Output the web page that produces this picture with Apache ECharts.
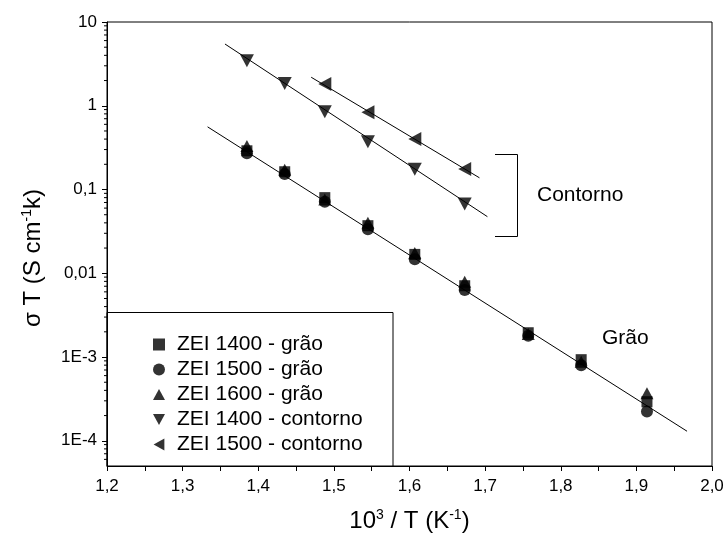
<!DOCTYPE html>
<html><head><meta charset="utf-8">
<script src="https://cdn.jsdelivr.net/npm/echarts@6/dist/echarts.min.js"></script>
<style>html,body{margin:0;padding:0;background:#fff}#c{width:727px;height:539px}</style>
</head><body><div id="c"></div>
<script>
// ---- data ----
const xGrain = [1.385, 1.435, 1.488, 1.545, 1.607, 1.673, 1.757, 1.827, 1.914];
const zei1400Grao = [0.29, 0.163, 0.080, 0.037, 0.0168, 0.0071, 0.00195, 0.00093, 0.000293];
const zei1500Grao = [0.271, 0.153, 0.0716, 0.0335, 0.0147, 0.0063, 0.00180, 0.00080, 0.000223];
const zei1600Grao = [0.331, 0.172, 0.076, 0.040, 0.0175, 0.0079, 0.00188, 0.00088, 0.000369];
const xContorno1400 = [1.385, 1.435, 1.488, 1.545, 1.607, 1.673];
const zei1400Contorno = [3.45, 1.85, 0.849, 0.372, 0.174, 0.0671];
const xContorno1500 = [1.488, 1.545, 1.607, 1.673];
const zei1500Contorno = [1.82, 0.836, 0.401, 0.176];
// fitted straight lines (end points)
const fitGraoX = [1.333, 1.967];
const fitGraoY = [0.56, 0.00013];
const fitC1400X = [1.356, 1.703];
const fitC1400Y = [5.46, 0.0474];
const fitC1500X = [1.470, 1.6925];
const fitC1500Y = [2.19, 0.138];
// tick labels
const yTickValues = [10, 1, 0.1, 0.01, 0.001, 0.0001];
const yTickLabels = ['10', '1', '0,1', '0,01', '1E-3', '1E-4'];
const xTickValues = [1.2, 1.3, 1.4, 1.5, 1.6, 1.7, 1.8, 1.9, 2.0];
const xTickLabels = ['1,2', '1,3', '1,4', '1,5', '1,6', '1,7', '1,8', '1,9', '2,0'];
const seriesNames = ['ZEI 1400 - grão', 'ZEI 1500 - grão', 'ZEI 1600 - grão', 'ZEI 1400 - contorno', 'ZEI 1500 - contorno'];
const Y_MIN = 5e-5, Y_MAX = 10;

const FONT = '"Liberation Sans", Arial, sans-serif';
const zip = (xs, ys) => xs.map((x, i) => [x, ys[i]]);
const DOWN = 'path://M0,0 L10,0 L5,9 Z';
const LEFT = 'path://M9,0 L9,10 L0,5 Z';
const UP = 'path://M5,0 L10,9 L0,9 Z';

// logarithmic minor tick positions (2..9 x 10^k) inside the axis range
const yMinor = [];
for (let k = -5; k <= 0; k++) for (let m = 2; m <= 9; m++) {
  const v = m * Math.pow(10, k);
  if (v > Y_MIN && v < Y_MAX) yMinor.push([v]);
}

function scatter(name, data, symbol, size) {
  return { name, type: 'scatter', data, symbol, symbolSize: size,
    itemStyle: { color: '#000' }, z: 5, emphasis: { disabled: true } };
}
function fit(xs, ys) {
  return { type: 'line', data: zip(xs, ys), symbol: 'none', silent: true,
    lineStyle: { color: '#000', width: 1 }, z: 3 };
}
const supRich = (big, small) => ({
  a: { fontFamily: FONT, fontSize: big, color: '#000' },
  s: { fontFamily: FONT, fontSize: small, color: '#000', verticalAlign: 'top', padding: [0, 0, 12, 0] }
});

const chart = echarts.init(document.getElementById('c'));
chart.setOption({
  animation: false,
  backgroundColor: '#fff',
  grid: { left: 107, right: 15, top: 22, bottom: 73, show: true, borderColor: '#000', borderWidth: 1 },
  xAxis: {
    type: 'value', min: 1.2, max: 2.0, interval: 0.1,
    axisLine: { lineStyle: { color: '#000', width: 1 } },
    axisTick: { inside: false, length: 5, lineStyle: { color: '#000' } },
    minorTick: { show: true, splitNumber: 2, length: 5, lineStyle: { color: '#000' } },
    splitLine: { show: false },
    axisLabel: { color: '#000', fontFamily: FONT, fontSize: 17, margin: 12,
      formatter: v => { const i = xTickValues.findIndex(t => Math.abs(t - v) < 1e-6); return i >= 0 ? xTickLabels[i] : ''; } },
    name: '{a|10}{s|3}{a| / T (K}{s|-1}{a|)}',
    nameLocation: 'middle', nameGap: 42,
    nameTextStyle: { rich: supRich(24, 14) }
  },
  yAxis: {
    type: 'log', logBase: 10, min: Y_MIN, max: Y_MAX,
    axisLine: { lineStyle: { color: '#000', width: 1 } },
    axisTick: { inside: false, length: 5, lineStyle: { color: '#000' } },
    minorTick: { show: false },
    splitLine: { show: false },
    axisLabel: { color: '#000', fontFamily: FONT, fontSize: 17, margin: 10, showMinLabel: false,
      formatter: v => { const i = yTickValues.findIndex(t => Math.abs(Math.log10(t) - Math.log10(v)) < 1e-6); return i >= 0 ? yTickLabels[i] : ''; } }
  },
  legend: {
    data: seriesNames, orient: 'vertical', left: 148, top: 329,
    itemWidth: 12, itemHeight: 12, itemGap: 4,
    textStyle: { fontFamily: FONT, fontSize: 21, color: '#000', lineHeight: 21, padding: [0, 0, 0, 7] },
    selectedMode: false
  },
  graphic: [
    { type: 'rect', shape: { x: 107, y: 312.5, width: 286, height: 153.5 },
      style: { fill: '#fff', stroke: '#000', lineWidth: 1 }, z: 0, silent: true },
    { type: 'polyline', shape: { points: [[495, 154.5], [517.5, 154.5], [517.5, 236.5], [495, 236.5]] },
      style: { stroke: '#000', lineWidth: 1, fill: null }, silent: true },
    { type: 'text', left: 537, top: 185, style: { text: 'Contorno', font: '21px ' + FONT, fill: '#000' }, silent: true },
    { type: 'text', left: 602, top: 328, style: { text: 'Grão', font: '21px ' + FONT, fill: '#000' }, silent: true },
    { type: 'text', x: 33, y: 258, rotation: Math.PI / 2, silent: true,
      style: { text: '{a|σ T (S cm}{s|-1}{a|k)}', rich: supRich(24, 14), align: 'center', verticalAlign: 'middle' } }
  ],
  series: [
    fit(fitGraoX, fitGraoY),
    fit(fitC1400X, fitC1400Y),
    fit(fitC1500X, fitC1500Y),
    { type: 'custom', data: yMinor, clip: false, silent: true, z: 4,
      encode: { y: 0 },
      renderItem: (params, api) => {
        const p = api.coord([1.2, api.value(0)]);
        return { type: 'line', shape: { x1: p[0] - 3, y1: p[1], x2: p[0], y2: p[1] },
          style: { stroke: '#000', lineWidth: 1 } };
      } },
    scatter(seriesNames[0], zip(xGrain, zei1400Grao), 'rect', 11),
    scatter(seriesNames[2], zip(xGrain, zei1600Grao), UP, [13, 12]),
    scatter(seriesNames[1], zip(xGrain, zei1500Grao), 'circle', 12),
    scatter(seriesNames[3], zip(xContorno1400, zei1400Contorno), DOWN, [14, 13]),
    scatter(seriesNames[4], zip(xContorno1500, zei1500Contorno), LEFT, [13, 14])
  ]
});
</script></body></html>
